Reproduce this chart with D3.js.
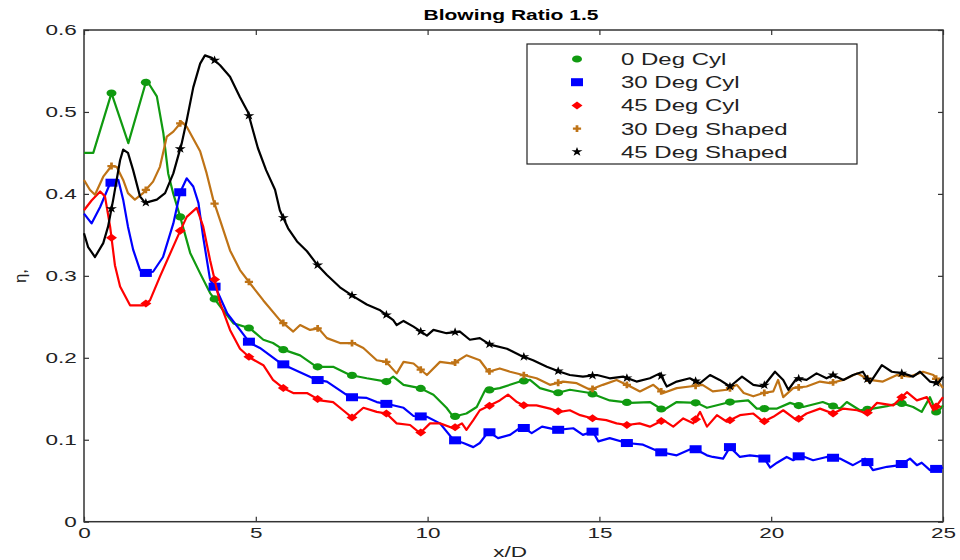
<!DOCTYPE html>
<html>
<head>
<meta charset="utf-8">
<script src="https://cdn.jsdelivr.net/npm/d3@7"></script>
<style>
  html, body { margin: 0; padding: 0; background: #fff; }
  svg { display: block; }
  text { font-family: "Liberation Sans", Arial, sans-serif; }
</style>
</head>
<body>
<div id="chart"></div>
<script>
// x/D vs eta
const cyl0 = [[0,0.450],[0.27,0.450],[0.8,0.523],[1.29,0.462],[1.82,0.539],[2.12,0.519],[2.31,0.474],[2.45,0.425],[2.6,0.40],[2.8,0.372],[3.09,0.328],[3.38,0.303],[3.67,0.279],[4.05,0.258],[4.35,0.242],[4.83,0.236],[5.22,0.222],[5.5,0.218],[5.8,0.210],[6.29,0.203],[6.77,0.189],[7.25,0.189],[7.74,0.179],[8.23,0.175],[8.8,0.171],[9.0,0.177],[9.3,0.167],[9.78,0.163],[10.17,0.155],[10.55,0.139],[10.75,0.128],[11.13,0.132],[11.43,0.14],[11.67,0.16],[12.1,0.163],[12.69,0.171],[12.98,0.173],[13.27,0.163],[13.77,0.157],[14.14,0.161],[14.73,0.157],[15.3,0.148],[15.9,0.145],[16.47,0.146],[16.86,0.136],[17.25,0.146],[17.84,0.145],[18.13,0.139],[18.8,0.146],[19.33,0.148],[19.58,0.138],[20.17,0.138],[20.55,0.145],[20.93,0.14],[21.5,0.146],[22.0,0.138],[22.2,0.146],[22.58,0.136],[22.96,0.138],[23.37,0.141],[23.75,0.145],[24.13,0.14],[24.38,0.134],[24.62,0.152],[24.82,0.132],[25,0.142]];

const cyl30 = [[0,0.376],[0.22,0.364],[0.47,0.384],[0.76,0.413],[1.0,0.417],[1.14,0.393],[1.28,0.36],[1.43,0.332],[1.63,0.307],[1.72,0.303],[2.01,0.305],[2.3,0.323],[2.6,0.364],[2.8,0.402],[2.99,0.419],[3.18,0.409],[3.33,0.389],[3.47,0.347],[3.67,0.295],[3.86,0.283],[4.17,0.254],[4.54,0.234],[4.83,0.218],[5.12,0.212],[5.7,0.194],[6.0,0.188],[6.78,0.173],[7.07,0.171],[7.74,0.152],[8.23,0.151],[8.52,0.146],[8.9,0.143],[9.3,0.139],[9.59,0.129],[9.98,0.128],[10.36,0.12],[10.75,0.1],[11.04,0.096],[11.33,0.091],[11.52,0.096],[11.77,0.11],[12.05,0.102],[12.4,0.106],[12.74,0.116],[13.03,0.108],[13.33,0.116],[13.77,0.112],[14.24,0.114],[14.52,0.106],[14.81,0.11],[14.97,0.098],[15.3,0.102],[15.8,0.096],[16.27,0.094],[16.76,0.085],[17.25,0.081],[17.73,0.09],[18.13,0.081],[18.3,0.079],[18.6,0.077],[18.8,0.091],[19.09,0.079],[19.38,0.081],[19.77,0.079],[19.97,0.066],[20.17,0.072],[20.45,0.079],[20.64,0.075],[20.84,0.081],[21.22,0.075],[21.61,0.079],[22.0,0.077],[22.38,0.069],[22.73,0.077],[22.96,0.063],[23.37,0.067],[23.75,0.069],[24.04,0.077],[24.24,0.069],[24.38,0.072],[24.62,0.063],[25,0.066]];

const cyl45 = [[0,0.38],[0.22,0.392],[0.47,0.403],[0.61,0.397],[0.76,0.36],[0.9,0.313],[1.05,0.287],[1.34,0.264],[1.72,0.264],[1.92,0.27],[2.21,0.299],[2.6,0.336],[2.79,0.354],[2.99,0.372],[3.28,0.383],[3.47,0.36],[3.67,0.319],[3.96,0.267],[4.25,0.234],[4.54,0.211],[4.83,0.2],[5.22,0.191],[5.5,0.173],[5.8,0.163],[6.09,0.157],[6.49,0.157],[6.87,0.148],[7.25,0.146],[7.54,0.136],[7.8,0.127],[8.13,0.139],[8.52,0.134],[8.8,0.132],[9.1,0.12],[9.49,0.118],[9.78,0.108],[10.07,0.12],[10.36,0.12],[10.75,0.114],[11.0,0.12],[11.13,0.112],[11.33,0.124],[11.52,0.136],[11.82,0.142],[12.1,0.148],[12.34,0.155],[12.6,0.146],[12.78,0.142],[13.17,0.142],[13.56,0.138],[13.85,0.134],[14.14,0.136],[14.44,0.13],[14.81,0.126],[15.2,0.124],[15.5,0.12],[15.8,0.118],[16.17,0.12],[16.47,0.116],[16.86,0.124],[17.15,0.116],[17.44,0.126],[17.73,0.12],[17.93,0.134],[18.13,0.116],[18.42,0.13],[18.71,0.122],[19.09,0.13],[19.48,0.132],[19.77,0.122],[20.06,0.128],[20.35,0.136],[20.74,0.124],[21.03,0.132],[21.42,0.138],[21.8,0.132],[22.1,0.138],[22.5,0.136],[22.78,0.132],[23.08,0.145],[23.55,0.142],[23.95,0.158],[24.24,0.148],[24.53,0.152],[24.72,0.136],[25,0.152]];

const shaped30 = [[0,0.417],[0.17,0.405],[0.32,0.399],[0.56,0.421],[0.8,0.434],[0.95,0.433],[1.14,0.417],[1.28,0.401],[1.48,0.393],[1.72,0.401],[2.01,0.415],[2.21,0.433],[2.41,0.47],[2.6,0.476],[2.84,0.488],[2.99,0.482],[3.38,0.452],[3.57,0.425],[3.76,0.393],[3.96,0.368],[4.25,0.331],[4.54,0.307],[4.83,0.291],[5.22,0.27],[5.7,0.246],[6.09,0.232],[6.29,0.24],[6.58,0.234],[6.82,0.236],[7.07,0.224],[7.45,0.218],[7.84,0.218],[8.13,0.212],[8.52,0.197],[8.8,0.195],[9.1,0.181],[9.3,0.195],[9.59,0.193],[9.98,0.179],[10.36,0.195],[10.75,0.193],[11.13,0.203],[11.52,0.197],[11.77,0.183],[12.1,0.187],[12.4,0.183],[12.78,0.179],[13.17,0.175],[13.56,0.167],[13.94,0.171],[14.34,0.169],[14.73,0.161],[15.1,0.167],[15.5,0.173],[15.9,0.165],[16.18,0.159],[16.57,0.167],[16.86,0.157],[17.25,0.163],[17.63,0.165],[18.0,0.167],[18.3,0.159],[18.71,0.161],[19.0,0.167],[19.2,0.157],[19.48,0.153],[19.77,0.157],[20.06,0.159],[20.2,0.173],[20.35,0.152],[20.64,0.163],[21.03,0.165],[21.42,0.171],[21.71,0.169],[22.1,0.173],[22.5,0.181],[22.87,0.173],[23.25,0.171],[23.66,0.179],[24.04,0.177],[24.42,0.183],[24.72,0.179],[25,0.163]];

const shaped45 = [[0,0.352],[0.12,0.335],[0.32,0.323],[0.56,0.34],[0.7,0.36],[0.85,0.393],[1.05,0.441],[1.14,0.454],[1.28,0.45],[1.43,0.429],[1.63,0.397],[1.78,0.389],[2.12,0.393],[2.36,0.401],[2.6,0.425],[2.84,0.461],[2.99,0.49],[3.18,0.53],[3.38,0.559],[3.52,0.569],[3.72,0.566],[3.96,0.557],[4.25,0.543],[4.54,0.518],[4.77,0.5],[5.06,0.456],[5.3,0.429],[5.56,0.405],[5.7,0.38],[5.94,0.358],[6.2,0.342],[6.49,0.33],[6.78,0.314],[7.07,0.301],[7.45,0.286],[7.84,0.275],[8.23,0.265],[8.62,0.258],[9.0,0.246],[9.1,0.24],[9.3,0.245],[9.59,0.238],[9.98,0.227],[10.17,0.234],[10.55,0.23],[10.94,0.232],[11.23,0.222],[11.52,0.224],[11.82,0.216],[12.31,0.211],[12.69,0.203],[13.07,0.197],[13.47,0.189],[13.85,0.183],[14.14,0.179],[14.52,0.177],[14.93,0.179],[15.3,0.175],[15.69,0.177],[16.08,0.171],[16.47,0.175],[16.76,0.181],[16.96,0.165],[17.25,0.171],[17.63,0.175],[17.93,0.169],[18.22,0.179],[18.5,0.173],[18.8,0.165],[19.15,0.177],[19.48,0.167],[19.77,0.165],[20.11,0.183],[20.35,0.173],[20.5,0.161],[20.74,0.175],[21.03,0.173],[21.32,0.181],[21.61,0.175],[21.8,0.179],[22.1,0.173],[22.38,0.179],[22.67,0.183],[22.87,0.169],[23.22,0.191],[23.51,0.183],[23.84,0.181],[24.13,0.177],[24.33,0.183],[24.62,0.171],[24.85,0.169],[25,0.177]];

const seriesNames = ['0 Deg Cyl', '30 Deg Cyl', '45 Deg Cyl', '30 Deg Shaped', '45 Deg Shaped'];
const xTicks = [0, 5, 10, 15, 20, 25];
const yTicks = [0, 0.1, 0.2, 0.3, 0.4, 0.5, 0.6];

const W = 960, H = 560;
const plot = { left: 84, right: 943, top: 30, bottom: 521.7 };
const SX = 1.5; // the reference is stretched sideways

const series = [
  { name: seriesNames[0], data: cyl0,     color: '#109a10', marker: 'ellipse' },
  { name: seriesNames[1], data: cyl30,    color: '#0000ff', marker: 'square' },
  { name: seriesNames[2], data: cyl45,    color: '#ff0000', marker: 'diamond' },
  { name: seriesNames[3], data: shaped30, color: '#bf7316', marker: 'cross' },
  { name: seriesNames[4], data: shaped45, color: '#000000', marker: 'star' }
];

const svg = d3.select('#chart').append('svg')
  .attr('width', W).attr('height', H);

const x = d3.scaleLinear().domain([0, 25]).range([plot.left, plot.right]);
const y = d3.scaleLinear().domain([0, 0.6]).range([plot.bottom, plot.top]);

// axes, ticks point inward
const styleAxis = ax => {
  ax.select('.domain').remove();
  ax.selectAll('line').attr('stroke', '#333').attr('stroke-width', 1.2);
  ax.selectAll('text').attr('font-size', '15px').attr('fill', '#222')
    .attr('transform', `scale(${SX},1)`);
};

svg.append('g').attr('transform', `translate(0,${plot.bottom})`)
  .call(d3.axisBottom(x).tickValues(xTicks).tickSizeInner(-5).tickSizeOuter(0).tickPadding(6).tickFormat(d3.format('d')))
  .call(styleAxis);
svg.append('g').attr('transform', `translate(${plot.left},0)`)
  .call(d3.axisLeft(y).tickValues(yTicks).tickSizeInner(-5).tickSizeOuter(0).tickPadding(4.8).tickFormat(d => d === 0 ? '0' : d3.format('.1f')(d)))
  .call(styleAxis);
svg.append('g').attr('transform', `translate(0,${plot.top})`)
  .call(d3.axisTop(x).tickValues(xTicks).tickSizeInner(-5).tickSizeOuter(0).tickFormat(''))
  .call(styleAxis);
svg.append('g').attr('transform', `translate(${plot.right},0)`)
  .call(d3.axisRight(y).tickValues(yTicks).tickSizeInner(-5).tickSizeOuter(0).tickFormat(''))
  .call(styleAxis);

// frame
svg.append('rect')
  .attr('x', plot.left).attr('y', plot.top)
  .attr('width', plot.right - plot.left).attr('height', plot.bottom - plot.top)
  .attr('fill', 'none').attr('stroke', '#333').attr('stroke-width', 1.5);

// marker shapes, widened like the rest of the picture
function drawMarker(sel, kind, color) {
  if (kind === 'ellipse') {
    sel.append('ellipse').attr('rx', 5).attr('ry', 3.6).attr('fill', color);
  } else if (kind === 'square') {
    sel.append('rect').attr('x', -6).attr('y', -4).attr('width', 12).attr('height', 8).attr('fill', color);
  } else if (kind === 'diamond') {
    sel.append('path').attr('d', 'M-5.5,0L0,-4L5.5,0L0,4Z').attr('fill', color);
  } else if (kind === 'cross') {
    sel.append('path').attr('d', d3.symbol(d3.symbolCross, 26)()).attr('fill', color)
      .attr('transform', `scale(${SX * 0.8},1)`);
  } else {
    sel.append('path').attr('d', d3.symbol(d3.symbolStar, 26)()).attr('fill', color)
      .attr('transform', `scale(${SX * 0.8},1)`);
  }
}

// y on the line at a given x, so markers sit on the curve
function yAt(data, xv) {
  const i = Math.max(1, Math.min(data.length - 1, d3.bisector(d => d[0]).left(data, xv)));
  const a = data[i - 1], b = data[i];
  const t = (xv - a[0]) / (b[0] - a[0]);
  return a[1] + t * (b[1] - a[1]);
}

const line = d3.line().x(d => x(d[0])).y(d => y(d[1]));
const markerX = d3.range(0.8, 25, 1);

const plotG = svg.append('g');
series.forEach(s => {
  plotG.append('path')
    .attr('d', line(s.data))
    .attr('fill', 'none')
    .attr('stroke', s.color)
    .attr('stroke-width', 2.2)
    .attr('stroke-linejoin', 'round');
  markerX.forEach(mx => {
    const g = plotG.append('g').attr('transform', `translate(${x(mx)},${y(yAt(s.data, mx))})`);
    drawMarker(g, s.marker, s.color);
  });
});

// legend
const legend = svg.append('g');
legend.append('rect')
  .attr('x', 527).attr('y', 44).attr('width', 330).attr('height', 120)
  .attr('fill', '#fff').attr('stroke', '#222').attr('stroke-width', 1.2);
series.forEach((s, i) => {
  const cy = 59 + i * 23.2;
  const g = legend.append('g').attr('transform', `translate(577,${cy})`);
  drawMarker(g, s.marker, s.color);
  legend.append('text')
    .attr('transform', `translate(621,${cy + 6}) scale(${SX},1)`)
    .attr('font-size', '16px').attr('fill', '#222')
    .text(s.name);
});

// titles
svg.append('text')
  .attr('transform', `translate(511,20) scale(${SX},1)`)
  .attr('text-anchor', 'middle').attr('font-size', '14px').attr('font-weight', 'bold')
  .text('Blowing Ratio 1.5');
svg.append('text')
  .attr('transform', `translate(510,557) scale(${SX},1)`)
  .attr('text-anchor', 'middle').attr('font-size', '15px').attr('fill', '#222')
  .text('x/D');
svg.append('text')
  .attr('transform', 'translate(26,276) rotate(-90)')
  .attr('text-anchor', 'middle').attr('font-size', '17px').attr('fill', '#222')
  .text('η,');
</script>
</body>
</html>
